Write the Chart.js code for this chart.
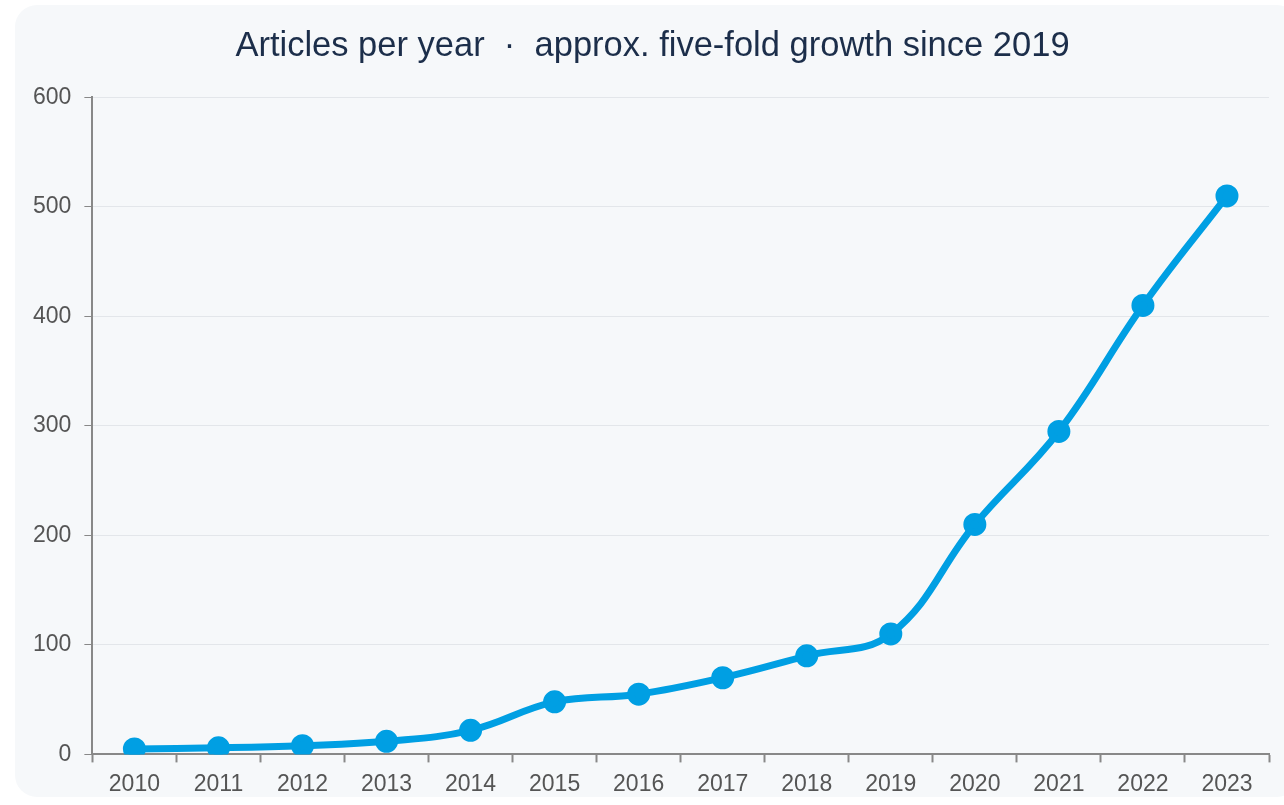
<!DOCTYPE html>
<html>
<head>
<meta charset="utf-8">
<script src="https://cdn.jsdelivr.net/npm/chart.js@4"></script>
<style>
  html, body { margin: 0; padding: 0; background: #fff; overflow: hidden; }
  .card {
    position: absolute; left: 15px; top: 5px;
    width: 1284px; height: 792px;
    background: #f6f8fa; border-radius: 22px;
  }
  .wrap { position: absolute; left: 0; top: 0; width: 1270px; height: 804px; }
</style>
</head>
<body>
<div class="card">
  <div class="wrap"><canvas id="line_chart"></canvas></div>
</div>
<script>
// Articles per year
var years = ["2010", "2011", "2012", "2013", "2014", "2015", "2016",
             "2017", "2018", "2019", "2020", "2021", "2022", "2023"];
var articles = [5, 6, 8, 12, 22, 48, 55, 70, 90, 110, 210, 295, 410, 510];
var yTicks = [0, 100, 200, 300, 400, 500, 600];

var fontFamily = 'Arial, "Liberation Sans", sans-serif';

var lineData = {
    labels: years,
    datasets: [{
        label: "Articles",
        data: articles,
        borderColor: '#009fe3',
        backgroundColor: '#009fe3',
        pointBackgroundColor: '#009fe3',
        pointBorderColor: '#009fe3',
        borderWidth: 7,
        pointRadius: 8,
        pointHoverRadius: 9,
        tension: 0.4,
        fill: false
    }]
};

var lineOptions = {
    responsive: true,
    maintainAspectRatio: false,
    animation: false,
    layout: { padding: { left: 5, right: 0, top: 0, bottom: 3 } },
    plugins: {
        legend: { display: false },
        tooltip: { enabled: false },
        title: {
            display: true,
            text: "Articles per year  \u00b7  approx. five-fold growth since 2019",
            color: '#1c2e4a',
            font: { family: fontFamily, size: 34.5, weight: 'normal' },
            padding: { top: 21, bottom: 30 }
        }
    },
    scales: {
        x: {
            offset: true,
            grid: {
                display: true,
                drawOnChartArea: false,
                offset: true,
                color: '#888',
                tickLength: 8,
                tickWidth: 2
            },
            border: { display: true, color: '#888', width: 2 },
            ticks: {
                color: '#555',
                font: { family: fontFamily, size: 23 },
                padding: 8
            }
        },
        y: {
            min: 0,
            max: 600,
            afterBuildTicks: function(axis) {
                axis.ticks = yTicks.map(function(v) { return { value: v }; });
            },
            grid: {
                color: '#e3e6ea',
                lineWidth: 1,
                tickLength: 8,
                tickColor: '#888'
            },
            border: { display: true, color: '#888', width: 2 },
            ticks: {
                color: '#555',
                font: { family: fontFamily, size: 23 },
                padding: 13
            }
        }
    }
};

var ctx = document.getElementById("line_chart").getContext("2d");
new Chart(ctx, {type: 'line', data: lineData, options: lineOptions});
</script>
</body>
</html>
